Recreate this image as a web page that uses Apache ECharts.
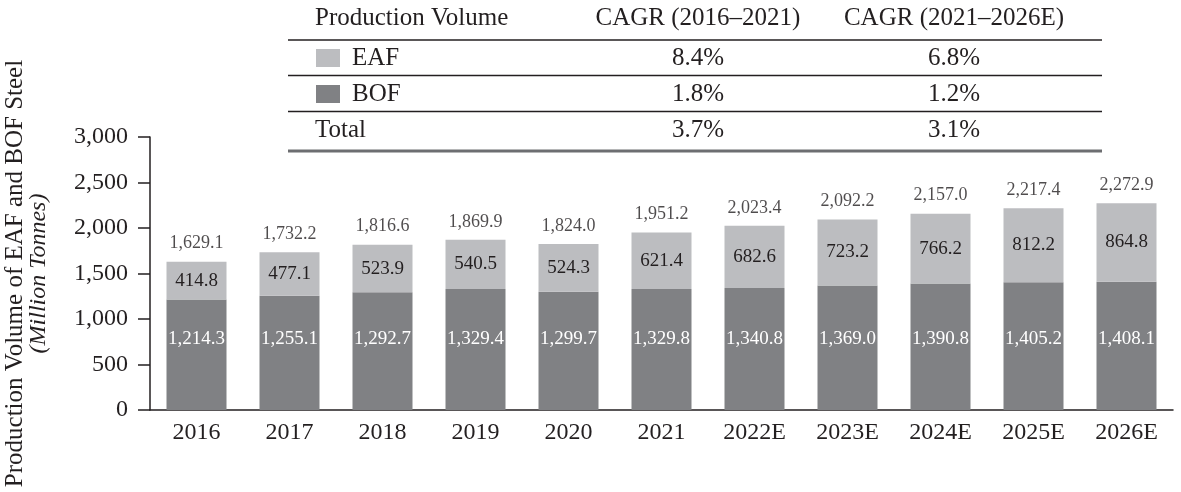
<!DOCTYPE html>
<html>
<head>
<meta charset="utf-8">
<script src="https://cdn.jsdelivr.net/npm/echarts@6/dist/echarts.min.js"></script>
<style>
  html, body { margin: 0; padding: 0; background: #fff; }
  #chart { width: 1181px; height: 492px; }
</style>
</head>
<body>
<div id="chart"></div>
<script>
// chart data
const categories = ['2016', '2017', '2018', '2019', '2020', '2021', '2022E', '2023E', '2024E', '2025E', '2026E'];
const bofValues = [1214.3, 1255.1, 1292.7, 1329.4, 1299.7, 1329.8, 1340.8, 1369.0, 1390.8, 1405.2, 1408.1];
const eafValues = [414.8, 477.1, 523.9, 540.5, 524.3, 621.4, 682.6, 723.2, 766.2, 812.2, 864.8];
const totalValues = [1629.1, 1732.2, 1816.6, 1869.9, 1824.0, 1951.2, 2023.4, 2092.2, 2157.0, 2217.4, 2272.9];
const yTicks = [0, 500, 1000, 1500, 2000, 2500, 3000];

// CAGR table
const tableHeader = ['Production Volume', 'CAGR (2016\u20132021)', 'CAGR (2021\u20132026E)'];
const tableNames = ['EAF', 'BOF', 'Total'];
const cagrFirst = ['8.4%', '1.8%', '3.7%'];
const cagrSecond = ['6.8%', '1.2%', '3.1%'];

const FONT = 'Liberation Serif';
const INK = '#231f20';
const EAF_COLOR = '#bcbdc0';
const BOF_COLOR = '#808184';

function fmt(v, digits) {
  return v.toLocaleString('en-US', { minimumFractionDigits: digits, maximumFractionDigits: digits });
}

// table drawn with graphic elements
function buildTable() {
  const els = [];
  const x0 = 288, x1 = 1102;
  const rowY = [18, 58, 94, 130];
  const lineY = [40, 75.5, 111.5];
  const col1 = 698, col2 = 954;
  const textStyle = { fontFamily: FONT, fontSize: 25, fill: INK, verticalAlign: 'middle' };

  els.push({ type: 'text', x: 315, y: rowY[0], style: Object.assign({ text: tableHeader[0], align: 'left' }, textStyle) });
  els.push({ type: 'text', x: col1, y: rowY[0], style: Object.assign({ text: tableHeader[1], align: 'center' }, textStyle) });
  els.push({ type: 'text', x: col2, y: rowY[0], style: Object.assign({ text: tableHeader[2], align: 'center' }, textStyle) });

  const swatches = [EAF_COLOR, BOF_COLOR, null];
  tableNames.forEach((name, i) => {
    const y = rowY[i + 1];
    let tx = 315;
    if (swatches[i]) {
      els.push({ type: 'rect', shape: { x: 316, y: y - 9, width: 24, height: 18 }, style: { fill: swatches[i] } });
      tx = 352;
    }
    els.push({ type: 'text', x: tx, y: y, style: Object.assign({ text: name, align: 'left' }, textStyle) });
    els.push({ type: 'text', x: col1, y: y, style: Object.assign({ text: cagrFirst[i], align: 'center' }, textStyle) });
    els.push({ type: 'text', x: col2, y: y, style: Object.assign({ text: cagrSecond[i], align: 'center' }, textStyle) });
  });

  lineY.forEach(y => {
    els.push({ type: 'line', shape: { x1: x0, y1: y, x2: x1, y2: y }, style: { stroke: INK, lineWidth: 1.5 } });
  });
  els.push({ type: 'line', shape: { x1: x0, y1: 151, x2: x1, y2: 151 }, style: { stroke: '#6d6e71', lineWidth: 3 } });
  return els;
}

const chart = echarts.init(document.getElementById('chart'));

const option = {
  animation: false,
  backgroundColor: '#fff',
  textStyle: { fontFamily: FONT, color: INK },
  grid: { left: 150, right: 8, top: 137, bottom: 82, outerBoundsMode: 'none' },
  xAxis: {
    type: 'category',
    data: categories,
    axisLine: { lineStyle: { color: INK, width: 1.5 } },
    axisTick: { inside: true, length: 5, lineStyle: { color: INK, width: 1.5 } },
    axisLabel: { fontFamily: FONT, fontSize: 24, color: INK, margin: 11 }
  },
  yAxis: {
    type: 'value',
    min: yTicks[0],
    max: yTicks[yTicks.length - 1],
    interval: 500,
    name: '{a|Production Volume of EAF and BOF Steel}\n{b|(Million Tonnes)}',
    nameLocation: 'middle',
    nameRotate: 90,
    nameGap: 99,
    nameTextStyle: {
      fontFamily: FONT,
      color: INK,
      align: 'center',
      rich: {
        a: { fontFamily: FONT, fontSize: 25, color: INK, lineHeight: 24 },
        b: { fontFamily: FONT, fontSize: 24, color: INK, fontStyle: 'italic', lineHeight: 24 }
      }
    },
    axisLine: { show: true, lineStyle: { color: INK, width: 1.5 } },
    axisTick: { show: true, length: 12, lineStyle: { color: INK, width: 1.5 } },
    splitLine: { show: false },
    axisLabel: {
      fontFamily: FONT, fontSize: 24, color: INK, margin: 22,
      formatter: v => fmt(v, 0)
    }
  },
  series: [
    {
      name: 'BOF',
      type: 'bar',
      stack: 'steel',
      barWidth: 60,
      itemStyle: { color: BOF_COLOR },
      label: {
        show: true,
        position: 'insideBottom',
        distance: 61,
        fontFamily: FONT,
        fontSize: 19,
        color: '#fff',
        formatter: p => fmt(p.value, 1)
      },
      data: bofValues
    },
    {
      name: 'EAF',
      type: 'bar',
      stack: 'steel',
      barWidth: 60,
      itemStyle: { color: EAF_COLOR },
      label: {
        show: true,
        position: 'inside',
        fontFamily: FONT,
        fontSize: 19,
        color: INK,
        formatter: p => fmt(p.value, 1)
      },
      data: eafValues
    },
    {
      name: 'Total',
      type: 'scatter',
      symbolSize: 0,
      silent: true,
      label: {
        show: true,
        position: 'top',
        distance: 9,
        fontFamily: FONT,
        fontSize: 18,
        color: INK,
        formatter: p => fmt(p.value, 1)
      },
      data: totalValues
    }
  ],
  graphic: buildTable()
};

chart.setOption(option);
window.addEventListener('resize', () => chart.resize());
</script>
</body>
</html>
